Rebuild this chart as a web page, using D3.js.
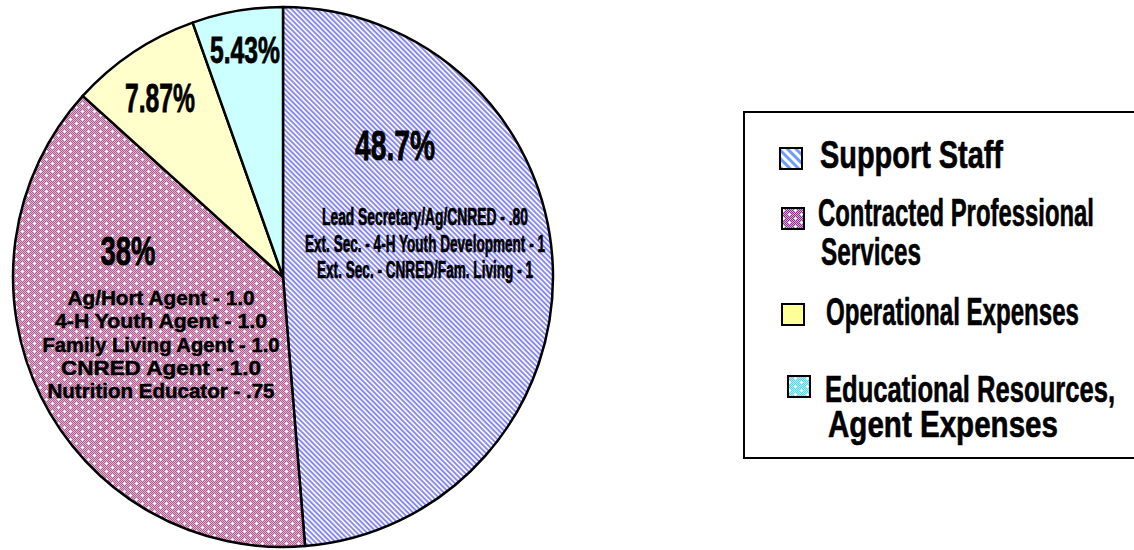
<!DOCTYPE html>
<html>
<head>
<meta charset="utf-8">
<script src="https://cdn.jsdelivr.net/npm/d3@7"></script>
<style>
  html, body { margin: 0; padding: 0; background: #fff; }
  svg { display: block; }
  text { font-family: "Liberation Sans", Arial, sans-serif; font-weight: bold; fill: #000; }
</style>
</head>
<body>
<svg></svg>
<script>
// ---- data ----
const categories = ['Support Staff', 'Contracted Professional Services', 'Operational Expenses', 'Educational Resources, Agent Expenses'];
const shares = [48.7, 38, 7.87, 5.43];
const pctLabels = ['48.7%', '38%', '7.87%', '5.43%'];
const legendLines = [
    ['Support Staff'],
    ['Contracted Professional', 'Services'],
    ['Operational Expenses'],
    ['Educational Resources,', 'Agent Expenses']
];
const staffNotes = [
    'Lead Secretary/Ag/CNRED - .80',
    'Ext. Sec. - 4-H Youth Development - 1',
    'Ext. Sec. - CNRED/Fam. Living - 1'
];
const contractNotes = [
    'Ag/Hort Agent - 1.0',
    '4-H Youth Agent - 1.0',
    'Family Living Agent - 1.0',
    'CNRED Agent - 1.0',
    'Nutrition Educator - .75'
];

// ---- layout ----
const W = 1134, H = 550;
const center = {x: 283, y: 277};
const radius = 270;

const svg = d3.select('svg')
    .attr('width', W)
    .attr('height', H);

const defs = svg.append('defs');

// diagonal stripes
function stripes(id, color, bg, size) {
    const p = defs.append('pattern')
        .attr('id', id)
        .attr('patternUnits', 'userSpaceOnUse')
        .attr('width', size)
        .attr('height', size)
        .attr('patternTransform', 'rotate(-45)');
    p.append('rect').attr('width', size).attr('height', size).attr('fill', bg);
    p.append('rect').attr('width', size / 2).attr('height', size).attr('fill', color);
}
// fine checker with white sparkle dots
function dotted(id, dark, light, cell) {
    const p = defs.append('pattern')
        .attr('id', id)
        .attr('patternUnits', 'userSpaceOnUse')
        .attr('width', 12)
        .attr('height', 8);
    p.append('rect').attr('width', 12).attr('height', 8).attr('fill', light);
    for (let x = 0; x < 12; x += cell) {
        for (let y = 0; y < 8; y += cell) {
            if (((x + y) / cell) % 2 === 0) {
                p.append('rect').attr('x', x).attr('y', y)
                    .attr('width', cell).attr('height', cell).attr('fill', dark);
            }
        }
    }
    [[3, 2], [9, 6]].forEach(([x, y]) => {
        p.append('rect').attr('x', x - 1).attr('y', y).attr('width', 3).attr('height', 1).attr('fill', '#fff');
        p.append('rect').attr('x', x).attr('y', y - 1).attr('width', 1).attr('height', 3).attr('fill', '#fff');
    });
}

stripes('pie-staff', '#8888ee', '#f4f4ff', 3.6);
dotted('pie-contract', '#b05f94', '#e0b0cc', 1);
stripes('leg-staff', '#6f9cff', '#ffffff', 6);
dotted('leg-contract', '#8f2f8f', '#d8a6d8', 1);
dotted('leg-edu', '#55d8e8', '#a8f0f6', 1);

const pieFills = ['url(#pie-staff)', 'url(#pie-contract)', '#ffffcc', '#ccffff'];
const legFills = ['url(#leg-staff)', 'url(#leg-contract)', '#ffff99', 'url(#leg-edu)'];

// ---- pie ----
const pie = d3.pie().sort(null).value(d => d);
const arc = d3.arc().innerRadius(0).outerRadius(radius);

const pieG = svg.append('g')
    .attr('transform', `translate(${center.x}, ${center.y})`);

pieG.selectAll('path')
    .data(pie(shares))
    .join('path')
    .attr('d', arc)
    .attr('fill', (d, i) => pieFills[i])
    .attr('stroke', '#000')
    .attr('stroke-width', 2.5)
    .attr('stroke-linejoin', 'round');

// condensed text helper: squeezes a line to a given width
function label(g, str, x, y, size, width, weight) {
    return g.append('text')
        .attr('x', x)
        .attr('y', y)
        .attr('text-anchor', 'middle')
        .attr('font-size', size)
        .attr('textLength', width)
        .attr('lengthAdjust', 'spacingAndGlyphs')
        .attr('stroke', '#000')
        .attr('stroke-width', weight)
        .text(str);
}

// percent labels (x, baseline, font size, width)
const pctPos = [
    [395, 160, 42, 80],
    [128, 265, 40, 55],
    [160, 112, 40, 70],
    [245, 63, 37, 70]
];
pctLabels.forEach((t, i) => label(svg, t, ...pctPos[i], 0.8));

// notes inside slices
const staffWidths = [206, 240, 216];
staffNotes.forEach((t, i) => label(svg, t, 425, 225 + i * 26.5, 23.5, staffWidths[i], 0.7));

const contractWidths = [187, 212, 237, 200, 227];
contractNotes.forEach((t, i) => label(svg, t, 161, 305 + i * 23.3, 19.5, contractWidths[i], 0.5));

// ---- legend ----
const legendG = svg.append('g');
legendG.append('rect')
    .attr('x', 744)
    .attr('y', 112)
    .attr('width', 420)
    .attr('height', 346)
    .attr('fill', '#fff')
    .attr('stroke', '#000')
    .attr('stroke-width', 2);

// swatch x, swatch y, text x, first baseline, line gap, line widths
const legendPos = [
    {sx: 780, sy: 148, tx: 820, ty: 168, gap: 0, w: [183]},
    {sx: 782, sy: 208, tx: 818, ty: 226, gap: 39, w: [276, 100]},
    {sx: 782, sy: 304, tx: 826, ty: 325, gap: 0, w: [253]},
    {sx: 788, sy: 376, tx: 825, ty: 402, gap: 35, w: [290, 230]}
];
const legendSize = [38, 39, 38, 37];

categories.forEach((c, i) => {
    const p = legendPos[i];
    legendG.append('rect')
        .attr('x', p.sx)
        .attr('y', p.sy)
        .attr('width', 22)
        .attr('height', 21)
        .attr('fill', legFills[i])
        .attr('stroke', '#000')
        .attr('stroke-width', 2);
    legendLines[i].forEach((line, j) => {
        legendG.append('text')
            .attr('x', p.tx + (j ? 3 : 0))
            .attr('y', p.ty + j * p.gap)
            .attr('font-size', legendSize[i])
            .attr('textLength', p.w[j])
            .attr('lengthAdjust', 'spacingAndGlyphs')
            .attr('stroke', '#000')
            .attr('stroke-width', 0.6)
            .text(line);
    });
});
</script>
</body>
</html>
